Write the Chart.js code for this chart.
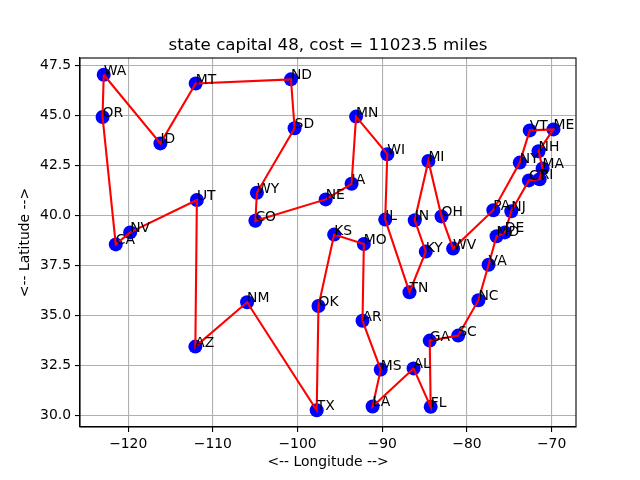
<!DOCTYPE html>
<html>
<head>
<meta charset="utf-8">
<script src="https://cdn.jsdelivr.net/npm/chart.js@4/dist/chart.umd.min.js"></script>
<style>
body{margin:0;background:#fff;}
#wrap{width:640px;height:480px;}
</style>
</head>
<body>
<div id="wrap"><canvas id="chart" width="640" height="480"></canvas></div>
<script>
// tour order of the 48 state capitals
let states=["WA","ID","MT","ND","SD","WY","CO","NE","IA","MN","WI","IL","TN","KY","IN","MI","OH","WV","PA","NY","VT","ME","NH","MA","RI","CT","NJ","DE","MD","VA","NC","SC","GA","FL","AL","LA","MS","AR","MO","KS","OK","TX","NM","AZ","UT","NV","CA","OR"];
let lons=[-122.89,-116.20,-112.03,-100.78,-100.35,-104.80,-104.98,-96.68,-93.62,-93.09,-89.40,-89.65,-86.78,-84.86,-86.16,-84.55,-83.00,-81.63,-76.88,-73.76,-72.58,-69.78,-71.54,-71.06,-71.41,-72.68,-74.76,-75.52,-76.50,-77.44,-78.64,-81.03,-84.39,-84.28,-86.30,-91.14,-90.18,-92.33,-92.17,-95.68,-97.53,-97.74,-105.96,-112.07,-111.89,-119.77,-121.47,-123.03];
let lats=[47.04,43.61,46.60,46.81,44.37,41.14,39.74,40.81,41.59,44.95,43.07,39.80,36.17,38.20,39.77,42.73,39.96,38.35,40.27,42.65,44.26,44.31,43.22,42.36,41.82,41.76,40.22,39.16,38.97,37.54,35.77,34.00,33.75,30.44,32.36,30.46,32.30,34.74,38.58,39.05,35.48,30.27,35.67,33.45,40.78,39.16,38.56,44.93];
let xTicks=[-120,-110,-100,-90,-80,-70];
let yTicks=[30,32.5,35,37.5,40,42.5,45,47.5];
let title="state capital 48, cost = 11023.5 miles";

let pts=states.map((s,i)=>({x:lons[i],y:lats[i]}));
let tour=pts.concat([pts[0]]);

// matplotlib style 5% margins
let xmin=Math.min(...lons),xmax=Math.max(...lons);
let ymin=Math.min(...lats),ymax=Math.max(...lats);
let dx=(xmax-xmin)*0.05,dy=(ymax-ymin)*0.05;

const font="DejaVu Sans";

let labelPlugin={
id:"labels",
afterDatasetsDraw(c){
let ctx=c.ctx,xs=c.scales.x,ys=c.scales.y;
ctx.save();
ctx.font="13.9px "+font;
ctx.fillStyle="#000";
ctx.textAlign="left";
ctx.textBaseline="alphabetic";
states.forEach((s,i)=>{
ctx.fillText(s,xs.getPixelForValue(lons[i]),ys.getPixelForValue(lats[i]));
});
ctx.restore();
},
afterDraw(c){
let ctx=c.ctx,a=c.chartArea;
ctx.save();
ctx.strokeStyle="#000";
ctx.lineWidth=1.1;
ctx.strokeRect(a.left,a.top,a.right-a.left,a.bottom-a.top);
ctx.font="16.7px "+font;
ctx.fillStyle="#000";
ctx.textAlign="center";
ctx.textBaseline="alphabetic";
ctx.fillText(title,(a.left+a.right)/2,a.top-8.3);
ctx.restore();
}
};

let chart=new Chart(document.getElementById("chart").getContext("2d"),{
type:"scatter",
data:{datasets:[
{data:tour,showLine:true,borderColor:"#ff0000",borderWidth:2.1,pointRadius:0,fill:false,order:0},
{data:pts,backgroundColor:"#0000ff",borderWidth:0,pointRadius:7,order:1}
]},
options:{
responsive:false,
animation:false,
devicePixelRatio:1,
layout:{padding:{top:58,right:64,left:0,bottom:0}},
plugins:{legend:{display:false},tooltip:{enabled:false}},
scales:{
x:{
min:xmin-dx,max:xmax+dx,
afterBuildTicks:s=>{s.ticks=xTicks.map(v=>({value:v}));},
afterFit:s=>{s.height=53;},
ticks:{color:"#000",font:{family:font,size:13.9},padding:4,maxRotation:0,
callback:v=>String(v).replace("-","\u2212")},
grid:{color:"#b0b0b0",lineWidth:1.1,tickColor:"#000",tickLength:5},
border:{display:true,color:"#000",width:1.1},
title:{display:true,text:"<-- Longitude -->",color:"#000",font:{family:font,size:13.9},padding:{top:0,bottom:9}}
},
y:{
min:ymin-dy,max:ymax+dy,
afterBuildTicks:s=>{s.ticks=yTicks.map(v=>({value:v}));},
afterFit:s=>{s.width=80;},
ticks:{color:"#000",font:{family:font,size:13.9},padding:4,
callback:v=>v.toFixed(1)},
grid:{color:"#b0b0b0",lineWidth:1.1,tickColor:"#000",tickLength:5},
border:{display:true,color:"#000",width:1.1},
title:{display:true,text:"<-- Latitude -->",color:"#000",font:{family:font,size:13.9},padding:{top:17,bottom:0}}
}
}
},
plugins:[labelPlugin]
});
</script>
</body>
</html>
